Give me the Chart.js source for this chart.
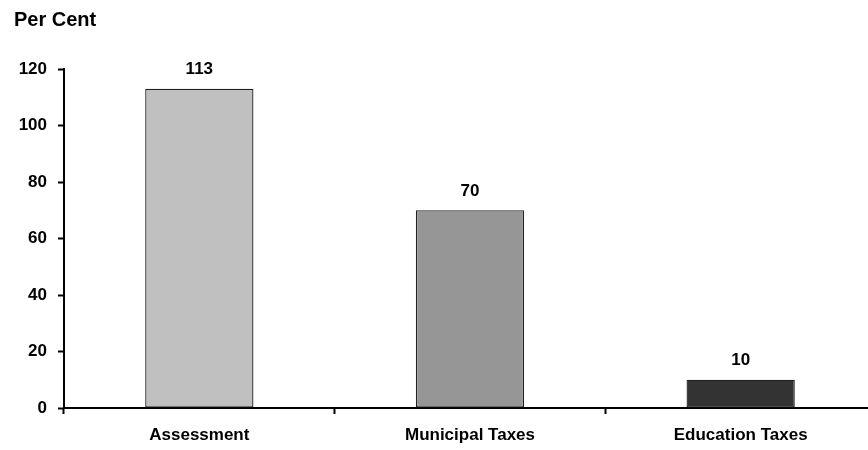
<!DOCTYPE html>
<html>
<head>
<meta charset="utf-8">
<script src="https://cdn.jsdelivr.net/npm/chart.js@4"></script>
<style>
  html, body { margin: 0; padding: 0; background: #fff; overflow: hidden; }
  #wrap { width: 876px; height: 450px; }
</style>
</head>
<body>
<div id="wrap"><canvas id="growth"></canvas></div>
<script>
const categories = ['Assessment', 'Municipal Taxes', 'Education Taxes'];
const percentGrowth = [113, 70, 10];
const barColors = ['#C0C0C0', '#969696', '#333333'];
const yTicks = [0, 20, 40, 60, 80, 100, 120];

const FONT = 'Arial, "Liberation Sans", sans-serif';

// value labels above each bar
const valueLabels = {
  id: 'valueLabels',
  afterDatasetsDraw(chart) {
    const ctx = chart.ctx;
    const meta = chart.getDatasetMeta(0);
    ctx.save();
    ctx.font = 'bold 17px ' + FONT;
    ctx.fillStyle = '#000';
    ctx.textAlign = 'center';
    ctx.textBaseline = 'middle';
    meta.data.forEach((bar, i) => {
      ctx.fillText(String(percentGrowth[i]), bar.x, bar.y - 19);
    });
    ctx.restore();
  }
};

new Chart(document.getElementById('growth'), {
  type: 'bar',
  data: {
    labels: categories,
    datasets: [{
      data: percentGrowth,
      backgroundColor: barColors,
      borderColor: '#222',
      borderWidth: 1.3,
      borderSkipped: false,
      categoryPercentage: 1,
      barPercentage: 0.4
    }]
  },
  options: {
    responsive: true,
    maintainAspectRatio: false,
    animation: false,
    layout: { padding: { left: 14, right: 0, top: 0, bottom: 0 } },
    scales: {
      x: {
        offset: true,
        grid: {
          offset: true,
          drawOnChartArea: false,
          tickLength: 6,
          tickWidth: 2,
          tickColor: '#000'
        },
        border: { display: true, color: '#000', width: 2 },
        ticks: {
          color: '#000',
          padding: 11,
          font: { family: FONT, size: 17, weight: 'bold' },
          maxRotation: 0
        },
        afterFit(scale) { scale.height = 42; }
      },
      y: {
        min: 0,
        max: 120,
        afterBuildTicks(scale) { scale.ticks = yTicks.map(v => ({ value: v })); },
        grid: {
          drawOnChartArea: false,
          tickLength: 6,
          tickWidth: 2,
          tickColor: '#000'
        },
        border: { display: true, color: '#000', width: 2 },
        ticks: {
          color: '#000',
          padding: 11,
          font: { family: FONT, size: 17, weight: 'bold' }
        },
        afterFit(scale) { scale.width = 50; }
      }
    },
    plugins: {
      legend: { display: false },
      tooltip: { enabled: false },
      title: {
        display: true,
        text: 'Per Cent',
        align: 'start',
        color: '#000',
        font: { family: FONT, size: 20, weight: 'bold' },
        padding: { top: 8, bottom: 37 }
      }
    }
  },
  plugins: [valueLabels]
});
</script>
</body>
</html>
